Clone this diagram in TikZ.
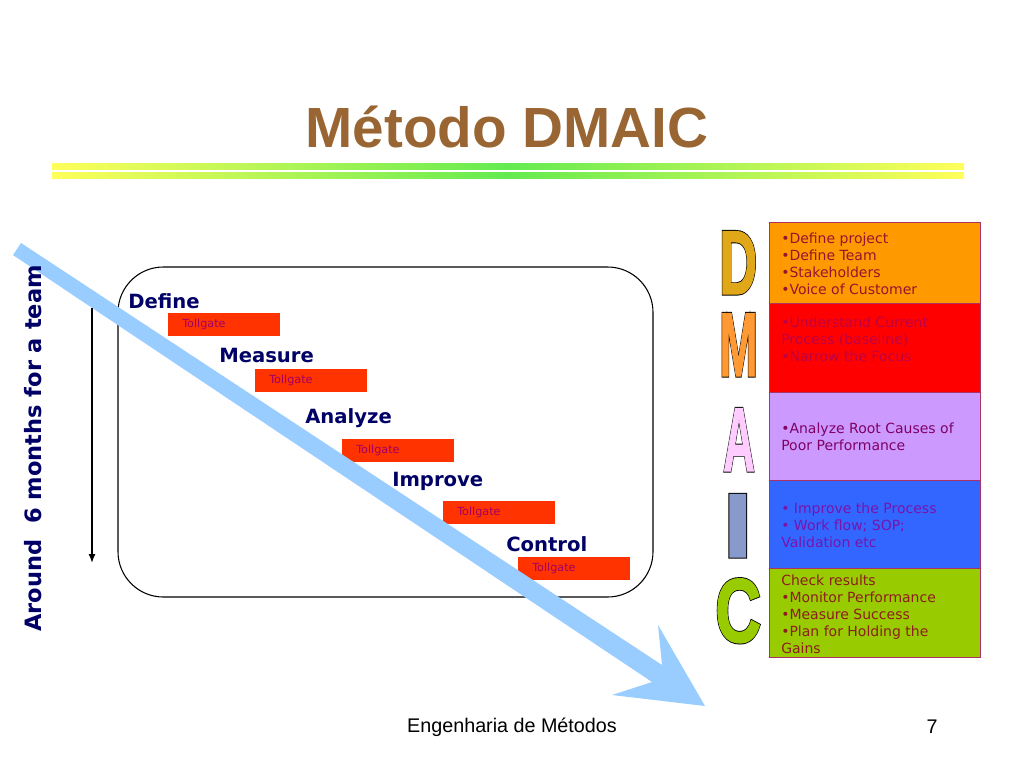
\documentclass[tikz,border=0pt]{standalone}
\usepackage{fontspec}
\setmainfont{DejaVu Sans}
\newfontfamily\arialf{Liberation Sans}
\newfontfamily\bigf{Liberation Sans Bold}[FakeBold=1.6]
\newfontfamily\bigfo{Liberation Sans Bold}[FakeBold=3.6]
\usetikzlibrary{arrows.meta}
\definecolor{titlebrown}{RGB}{153,102,51}
\definecolor{barY}{RGB}{255,255,90}
\definecolor{barG}{RGB}{100,235,80}
\definecolor{navy}{RGB}{0,0,102}
\definecolor{tollred}{RGB}{255,51,0}
\definecolor{tolltxt}{RGB}{160,0,100}
\definecolor{arrowblue}{RGB}{153,204,255}
\definecolor{rowborder}{RGB}{170,50,100}
\definecolor{rowD}{RGB}{255,153,0}
\definecolor{rowM}{RGB}{255,0,0}
\definecolor{rowA}{RGB}{204,153,255}
\definecolor{rowI}{RGB}{51,102,255}
\definecolor{rowC}{RGB}{153,204,0}
\definecolor{txD}{RGB}{150,20,50}
\definecolor{txM}{RGB}{190,0,70}
\definecolor{txA}{RGB}{128,0,100}
\definecolor{txI}{RGB}{120,20,170}
\definecolor{txC}{RGB}{140,30,30}
\definecolor{letD}{RGB}{224,168,24}
\definecolor{letM}{RGB}{255,153,51}
\definecolor{letA}{RGB}{255,204,255}
\definecolor{letI}{RGB}{136,153,204}
\definecolor{letC}{RGB}{153,204,0}
\newcommand\dmaicletter[5]{%
  \node[bigletter] (#1) at (#2) {\scalebox{#3}[1]{\rlap{\bigfo\fontsize{68}{68}\selectfont\color{black}#5}{\bigf\fontsize{68}{68}\selectfont\color{#4}#5}}};
}
\begin{document}
\begin{tikzpicture}[x=0.75pt,y=-0.75pt,
  titletext/.style={font=\arialf\bfseries\fontsize{42.5}{50}\selectfont, text=titlebrown},
  phase/.style={anchor=west, inner sep=0pt, font=\bfseries\fontsize{14.7}{17}\selectfont, text=navy},
  tollbox/.style={anchor=north west, fill=tollred, minimum width=84pt, minimum height=17pt,
    inner xsep=10.5pt, inner ysep=0pt, text width=63pt, align=left, text=tolltxt,
    font=\fontsize{8.4}{10}\selectfont},
  rowbox/.style={anchor=north west, draw=rowborder, line width=0.75pt, minimum width=158.25pt, inner sep=0pt},
  rowtext/.style={anchor=west, align=left, inner sep=0pt, font=\fontsize{10.5}{12.75}\selectfont},
  bigletter/.style={anchor=base west, inner sep=0pt, text height=49pt, text depth=0pt},
  footer/.style={font=\arialf\fontsize{14.8}{17}\selectfont, text=black},
  frame/.style={draw=black, line width=0.8pt, rounded corners=34pt}
]
\useasboundingbox (0,0) rectangle (1024,768);

% title and bars
\node[titletext] (title) at (507,127) {Método DMAIC};
\shade[left color=barY, right color=barY, middle color=barG] (52,163) rectangle (964,169);
\shade[left color=barY, right color=barY, middle color=barG] (52,172) rectangle (964,178);

% frame
\draw[frame] (118,267) rectangle (653,597);

% tollgates
\node[tollbox] (t1) at (168,313) {Tollgate};
\node[tollbox] (t2) at (255,369) {Tollgate};
\node[tollbox] (t3) at (342,439) {Tollgate};
\node[tollbox] (t4) at (443,501) {Tollgate};
\node[tollbox] (t5) at (518,557) {Tollgate};

% big blue arrow
\fill[arrowblue] (21,243) -- (662,665) -- (658,625) -- (705,706) -- (612,695) -- (652,682) -- (13,255) -- cycle;

% phase labels
\node[phase] (pD) at (128,301) {Define};
\node[phase] (pM) at (219,355) {Measure};
\node[phase] (pA) at (305,418) {Analyze};
\node[phase] (pI) at (392,481) {Improve};
\node[phase] (pC) at (506,544) {Control};

% time axis
\coordinate (vt) at (92,308);
\coordinate (vb) at (92,563);
\draw[line width=1.1pt, -{Latex[length=6.75pt,width=5.25pt]}] (vt) -- (vb);
\node[rotate=90, font=\bfseries\fontsize{16.9}{20}\selectfont, text=navy] (side) at (33,448.5) {Around\ \ 6 months for a team};

% DMAIC letters
\dmaicletter{lD}{719,294}{0.58}{letD}{D}
\dmaicletter{lM}{719,376}{0.51}{letM}{M}
\dmaicletter{lA}{723,471}{0.48}{letA}{A}
\dmaicletter{lI}{723,557}{1.15}{letI}{I}
\dmaicletter{lC}{715,642}{0.70}{letC}{C}

% table rows
\node[rowbox, fill=rowD, minimum height=60.75pt] (rD) at (769,222) {};
\node[rowbox, fill=rowM, minimum height=66.75pt] (rM) at (769,303) {};
\node[rowbox, fill=rowA, minimum height=66pt] (rA) at (769,392) {};
\node[rowbox, fill=rowI, minimum height=66pt] (rI) at (769,480) {};
\node[rowbox, fill=rowC, minimum height=66.75pt] (rC) at (769,568) {};

\node[rowtext, text=txD] (xD) at (781,263.5) {•Define project\\•Define Team\\•Stakeholders\\•Voice of Customer};
\node[rowtext, text=txM] (xM) at (781,339) {•Understand Current\\Process (baseline)\\•Narrow the Focus};
\node[rowtext, text=txA] (xA) at (781,436.5) {•Analyze Root Causes of\\Poor Performance};
\node[rowtext, text=txI] (xI) at (781,525) {• Improve the Process\\• Work flow; SOP;\\Validation etc};
\node[rowtext, text=txC] (xC) at (781,614) {Check results\\•Monitor Performance\\•Measure Success\\•Plan for Holding the\\Gains};

% footer
\node[footer] (foot) at (512,727) {Engenharia de Métodos};
\node[footer] (pg) at (932,727) {7};
\end{tikzpicture}
\end{document}
